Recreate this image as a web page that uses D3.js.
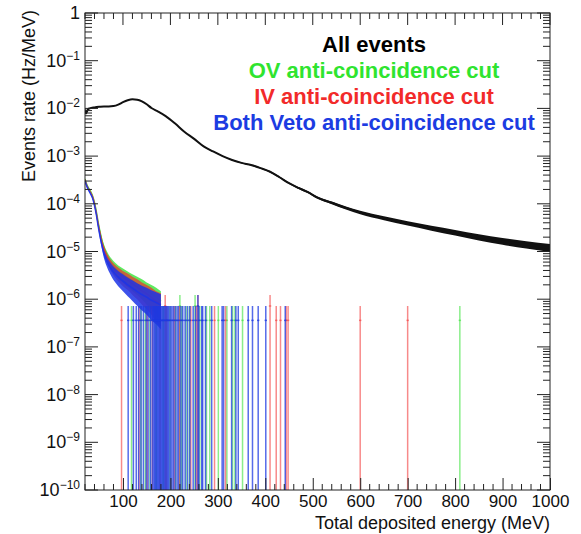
<!DOCTYPE html>
<html>
<head>
<meta charset="utf-8">
<script src="https://cdn.jsdelivr.net/npm/d3@7"></script>
<style>
  body { margin: 0; background: #fff; }
  text { font-family: "Liberation Sans", Arial, Helvetica, sans-serif; }
</style>
</head>
<body>
<svg id="chart" width="581" height="534"></svg>
<script>
// rate that one event in one bin gives (Hz/MeV)
const unitRate = 3.6e-7;

// All events
const allEnergy = [20, 22, 26, 30, 40, 50, 60, 70, 80, 90, 100, 110, 120, 130, 140, 150, 160, 175, 190, 210,
    230, 250, 270, 290, 310, 330, 350, 370, 390, 410, 430, 450, 470, 490, 510, 540, 570, 600, 650, 700,
    750, 800, 850, 900, 950, 1000];
const allRate = [9.5e-3, 7.8e-3, 9.5e-3, 1.0e-2, 1.05e-2, 1.08e-2, 1.1e-2, 1.1e-2, 1.12e-2, 1.2e-2, 1.35e-2, 1.48e-2, 1.55e-2, 1.52e-2, 1.4e-2, 1.22e-2, 1.02e-2, 8.5e-3, 6.9e-3, 4.8e-3,
    3.2e-3, 2.3e-3, 1.6e-3, 1.25e-3, 1.0e-3, 8.3e-4, 7.2e-4, 6.5e-4, 5.6e-4, 4.7e-4, 3.6e-4, 2.7e-4, 2.15e-4, 1.75e-4, 1.35e-4, 1.05e-4, 8.2e-5, 6.6e-5, 5.0e-5, 3.9e-5,
    3.1e-5, 2.5e-5, 2.0e-5, 1.65e-5, 1.4e-5, 1.2e-5];

// low energy part of the three cut spectra
const cutEnergy = [20, 24, 28, 32, 36, 40, 44, 48, 52, 56, 60, 65, 70, 76, 82, 90, 100, 110, 120, 130, 140, 150, 160, 170, 180];
const ovRate = [3.3e-4, 2.5e-4, 2.1e-4, 1.8e-4, 1.45e-4, 1.05e-4, 6.8e-5, 4.0e-5, 2.5e-5, 1.65e-5, 1.2e-5, 8.8e-6, 7.0e-6, 5.6e-6, 4.7e-6, 3.9e-6, 3.3e-6, 2.8e-6, 2.4e-6, 2.1e-6, 1.8e-6, 1.5e-6, 1.3e-6, 1.1e-6, 9e-7];
const ivRate = [3.2e-4, 2.4e-4, 2.0e-4, 1.7e-4, 1.4e-4, 1.0e-4, 6.3e-5, 3.7e-5, 2.3e-5, 1.5e-5, 1.1e-5, 8.0e-6, 6.3e-6, 5.0e-6, 4.2e-6, 3.5e-6, 2.9e-6, 2.5e-6, 2.1e-6, 1.8e-6, 1.5e-6, 1.3e-6, 1.1e-6, 9e-7, 8e-7];
const bothRate = [3.0e-4, 2.3e-4, 1.9e-4, 1.6e-4, 1.3e-4, 9.2e-5, 5.8e-5, 3.3e-5, 2.0e-5, 1.3e-5, 9.0e-6, 6.6e-6, 5.2e-6, 4.2e-6, 3.5e-6, 2.9e-6, 2.4e-6, 2.0e-6, 1.7e-6, 1.45e-6, 1.25e-6, 1.1e-6, 9.5e-7, 8.5e-7, 7.5e-7];

// bins with one event (energy, MeV)
const ovSingles = [118, 138, 147, 157, 170, 185, 199, 211, 224, 233, 240, 262, 276, 283, 301, 319, 331, 336, 352, 810];
const ivSingles = [97, 134, 151, 162, 178, 192, 208, 219, 243, 255, 293, 316, 423, 432, 444, 448, 600, 700];
const bothSingles = [111, 122, 128, 133, 138, 143, 149, 153, 158, 162, 165, 167, 169, 171, 173, 175, 177, 179, 181, 183,
    185, 187, 189, 191, 193, 195, 197, 200, 203, 206, 210, 214, 217, 222, 226, 231, 236, 241, 248, 253,
    260, 266, 268, 274, 287, 309, 312, 329, 338, 343, 364, 373, 385, 401, 442];
// bins with two events
const ovDoubles = [220, 252];
const ivDoubles = [189, 258, 410];
const bothDoubles = [258];

const xTicks = [100, 200, 300, 400, 500, 600, 700, 800, 900, 1000];
const yDecades = [-10, -9, -8, -7, -6, -5, -4, -3, -2, -1, 0];

const legendNames = ["All events", "OV anti-coincidence cut", "IV anti-coincidence cut", "Both Veto anti-coincidence cut"];
const legendColors = ["#000000", "#2fe42f", "#f22a2a", "#1c3ce2"];

const L = 85, R = 550, T = 13, B = 490;
const floorRate = 1e-10;

const svg = d3.select("#chart");

const x = d3.scaleLinear().domain([20, 1000]).range([L, R]);
const y = d3.scaleLog().domain([floorRate, 1]).range([B, T]);

svg.append("defs").append("clipPath").attr("id", "plot")
    .append("rect").attr("x", L).attr("y", T).attr("width", R - L).attr("height", B - T);

const plot = svg.append("g").attr("clip-path", "url(#plot)");

function sigma(v) {
    return Math.sqrt(v * unitRate);
}

function band(energy, rate, k) {
    return energy.map((e, i) => ({
        e: e,
        lo: Math.max(rate[i] - k * sigma(rate[i]), floorRate),
        hi: rate[i] + k * sigma(rate[i]),
        v: rate[i]
    }));
}

const area = d3.area()
    .x(d => x(d.e))
    .y0(d => y(d.lo))
    .y1(d => y(d.hi))
    .curve(d3.curveMonotoneX);

const line = d3.line()
    .x(d => x(d.e))
    .y(d => y(d.v))
    .curve(d3.curveMonotoneX);

// all events
const allData = band(allEnergy, allRate, 1.1);
plot.append("path")
    .datum(allData)
    .attr("d", area)
    .attr("fill", "#111");
plot.append("path")
    .datum(allData)
    .attr("d", line)
    .attr("fill", "none")
    .attr("stroke", "#111")
    .attr("stroke-width", 2);

const cuts = [
    { rate: ovRate, singles: ovSingles, doubles: ovDoubles, fill: "rgba(55,228,55,0.8)", spike: "rgba(60,225,60,0.6)" },
    { rate: ivRate, singles: ivSingles, doubles: ivDoubles, fill: "rgba(240,45,45,0.7)", spike: "rgba(242,60,60,0.6)" },
    { rate: bothRate, singles: bothSingles, doubles: bothDoubles, fill: "rgba(28,52,230,0.85)", spike: "rgba(30,58,225,0.75)" }
];

cuts.forEach(function (c) {
    const d = band(cutEnergy, c.rate, 1);
    plot.append("path")
        .datum(d)
        .attr("d", area)
        .attr("fill", c.fill);
    plot.append("path")
        .datum(d)
        .attr("d", line)
        .attr("fill", "none")
        .attr("stroke", c.fill)
        .attr("stroke-width", 1.5);

    const spikes = c.singles.map(e => ({ e: e, n: 1 }))
        .concat(c.doubles.map(e => ({ e: e, n: 2 })));

    plot.selectAll(null)
        .data(spikes)
        .enter()
        .append("line")
        .attr("x1", d => x(d.e))
        .attr("x2", d => x(d.e))
        .attr("y1", y(floorRate))
        .attr("y2", d => y(d.n * unitRate + Math.sqrt(d.n) * unitRate))
        .attr("stroke", c.spike)
        .attr("stroke-width", 1.5);

    plot.selectAll(null)
        .data(spikes)
        .enter()
        .append("line")
        .attr("x1", d => x(d.e) - 1.2)
        .attr("x2", d => x(d.e) + 1.2)
        .attr("y1", d => y(d.n * unitRate))
        .attr("y2", d => y(d.n * unitRate))
        .attr("stroke", c.spike)
        .attr("stroke-width", 1.5);
});

// frame and ticks
const axisColor = "#222";
const axes = svg.append("g").attr("stroke", axisColor).attr("stroke-width", 1);

axes.append("rect")
    .attr("x", L).attr("y", T)
    .attr("width", R - L).attr("height", B - T)
    .attr("fill", "none");

const xMinor = d3.range(20, 1001, 20).filter(v => v % 100 !== 0);
xMinor.forEach(function (v) {
    axes.append("line").attr("x1", x(v)).attr("x2", x(v)).attr("y1", B).attr("y2", B - 6);
    axes.append("line").attr("x1", x(v)).attr("x2", x(v)).attr("y1", T).attr("y2", T + 6);
});

svg.append("g")
    .attr("transform", `translate(0,${B})`)
    .call(d3.axisBottom(x).tickValues(xTicks).tickFormat(d3.format("d"))
        .tickSizeInner(-12).tickSizeOuter(0).tickPadding(5))
    .call(g => g.select(".domain").remove())
    .call(g => g.selectAll(".tick line").attr("stroke", axisColor))
    .call(g => g.selectAll(".tick text")
        .attr("font-size", 17)
        .attr("fill", "#111")
        .attr("font-family", "Liberation Sans, Arial, sans-serif"));

xTicks.forEach(function (v) {
    axes.append("line").attr("x1", x(v)).attr("x2", x(v)).attr("y1", T).attr("y2", T + 12);
});

yDecades.forEach(function (p) {
    const v = Math.pow(10, p);
    axes.append("line").attr("x1", L).attr("x2", L + 13).attr("y1", y(v)).attr("y2", y(v));
    axes.append("line").attr("x1", R).attr("x2", R - 13).attr("y1", y(v)).attr("y2", y(v));
    if (p < 0) {
        for (let m = 2; m <= 9; m++) {
            const mv = m * Math.pow(10, p);
            axes.append("line").attr("x1", L).attr("x2", L + 7).attr("y1", y(mv)).attr("y2", y(mv));
            axes.append("line").attr("x1", R).attr("x2", R - 7).attr("y1", y(mv)).attr("y2", y(mv));
        }
    }
});

// y tick labels
const yLabels = svg.append("g").attr("fill", "#111");
yDecades.forEach(function (p) {
    const t = yLabels.append("text")
        .attr("x", 80)
        .attr("y", y(Math.pow(10, p)) + 6)
        .attr("text-anchor", "end")
        .attr("font-size", 18);
    if (p === 0) {
        t.text("1");
    } else {
        t.append("tspan").text("10");
        t.append("tspan")
            .attr("dy", -7)
            .attr("font-size", 12)
            .text("\u2212" + Math.abs(p));
    }
});

// axis titles
svg.append("text")
    .attr("transform", "translate(35,10) rotate(-90)")
    .attr("text-anchor", "end")
    .attr("font-size", 18)
    .attr("fill", "#111")
    .text("Events rate (Hz/MeV)");

svg.append("text")
    .attr("x", R)
    .attr("y", 529)
    .attr("text-anchor", "end")
    .attr("font-size", 18)
    .attr("fill", "#111")
    .text("Total deposited energy (MeV)");

// legend
svg.append("g")
    .selectAll("text")
    .data(legendNames)
    .enter()
    .append("text")
    .attr("x", 374)
    .attr("y", (d, i) => 52 + i * 26)
    .attr("text-anchor", "middle")
    .attr("font-size", 22)
    .attr("font-weight", "bold")
    .attr("fill", (d, i) => legendColors[i])
    .text(d => d);
</script>
</body>
</html>
